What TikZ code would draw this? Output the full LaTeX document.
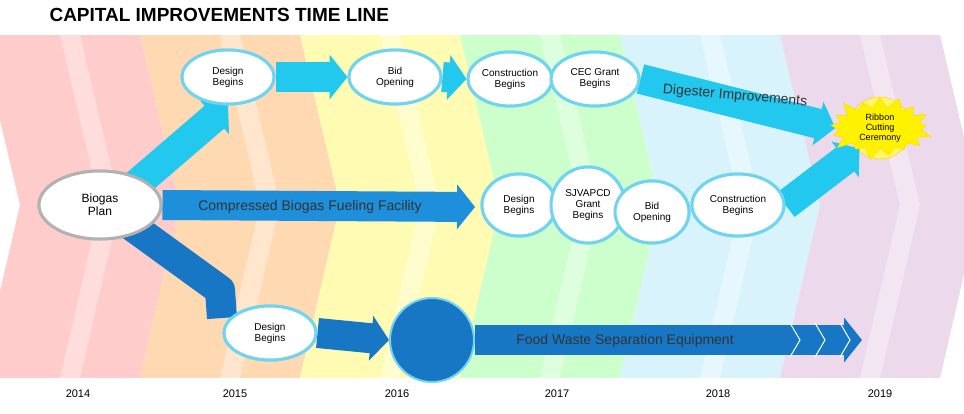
\documentclass[tikz,border=0pt]{standalone}
\usepackage{fontspec}
\setmainfont{Liberation Sans}
\usetikzlibrary{arrows.meta,shapes.geometric,shapes.symbols}
\definecolor{cyanarr}{HTML}{22C8EE}
\definecolor{bluearr}{HTML}{1E8FDA}
\definecolor{darkarr}{HTML}{1777C4}
\definecolor{ringblue}{HTML}{6FD3F2}
\tikzset{milestone/.style = {shape=ellipse,draw=ringblue,line width=3pt,fill=white,
    minimum width=92pt,minimum height=54pt,font=\fontsize{10}{11}\selectfont,align=center,inner sep=0pt}}
\tikzset{band/.style = {line width=30pt,line join=round,-{Triangle[width=44pt,length=18pt]}}}
\tikzset{bandlabel/.style = {font=\fontsize{14}{15}\selectfont,text=black!80}}
\tikzset{year/.style = {font=\fontsize{11}{12}\selectfont}}
\begin{document}
\begin{tikzpicture}[x=1pt,y=-1pt]
  \useasboundingbox (0,0) rectangle (964,413);
  % background chevrons
  \foreach \c [count=\i from 0] in {red!20,orange!30,yellow!30,green!20,cyan!15,violet!15}{
    \fill[\c] (\i*160-20,35) -- (\i*160+140,35) -- (\i*160+180,205) -- (\i*160+140,378)
      -- (\i*160-20,378) -- (\i*160+20,205) -- cycle;
    \fill[white,opacity=0.35] (\i*160+60,35) -- (\i*160+80,35) -- (\i*160+120,205)
      -- (\i*160+80,378) -- (\i*160+60,378) -- (\i*160+100,205) -- cycle;
  }
  \fill[white] (0,0) rectangle (964,35);
  \fill[white] (0,378) rectangle (964,413);
  \node[font=\bfseries\fontsize{19}{20}\selectfont,anchor=west] (title) at (46,15) {CAPITAL IMPROVEMENTS TIME LINE};
  \foreach \x/\y in {78/2014,235/2015,397/2016,557/2017,718/2018,880/2019}
    \node[year] (y\y) at (\x,394) {\y};

  % nodes
  \node[milestone,draw=gray!60,minimum width=122pt,minimum height=68pt,font=\fontsize{12}{13}\selectfont] (bio) at (100,205) {Biogas\\Plan};
  \node[milestone] (tdes) at (228,77) {Design\\Begins};
  \node[milestone] (tbid) at (395,77) {Bid\\Opening};
  \node[milestone,minimum width=84pt] (tcon) at (510,79) {Construction\\Begins};
  \node[milestone,minimum width=88pt] (tcec) at (595,79) {CEC Grant\\Begins};
  \node[circle,fill=yellow!60,draw=yellow!60!orange,minimum size=62pt] (ribbg) at (880,128) {};
  \node[starburst,fill=yellow,draw=yellow!80!orange,minimum width=110pt,minimum height=62pt,
    font=\fontsize{9}{10}\selectfont,align=center,inner sep=0pt] (rib) at (880,128) {Ribbon\\Cutting\\Ceremony};
  \node[milestone,minimum width=74pt,minimum height=62pt] (mdes) at (519,205) {Design\\Begins};
  \node[milestone,minimum width=74pt,minimum height=76pt] (mgra) at (588,205) {SJVAPCD\\Grant\\Begins};
  \node[milestone,minimum width=74pt,minimum height=62pt] (mbid) at (652,212) {Bid\\Opening};
  \node[milestone,minimum width=92pt,minimum height=62pt] (mcon) at (738,205) {Construction\\Begins};
  \node[milestone] (bdes) at (270,333) {Design\\Begins};
  \node[circle,fill=darkarr,draw=ringblue,line width=2pt,minimum size=84pt] (food) at (432,340) {};
  \coordinate (mend) at (475,207);
  \coordinate (fend) at (862,340);
  \coordinate (bturn) at (220,290);
  \coordinate (bdrop) at (222,318);

  % bands
  \draw[band,cyanarr] (bio.north east) ++(-12,8) -- (tdes.south);
  \draw[band,cyanarr] (tdes.east) -- (tbid.west);
  \draw[band,cyanarr] (tbid.east) -- (tcon.west);
  \draw[band,cyanarr] (tcec.east) -- (rib.west);
  \draw[band,cyanarr] (mcon.east) -- (rib.south west);
  \draw[band,bluearr] (bio.east) -- (mend);
  \draw[line width=30pt,line join=round,darkarr] (bio.south east) ++(-15,-6) -- (bturn) -- (bdrop);
  \draw[band,darkarr] (bdes.east) -- (food.west);
  \draw[band,darkarr] (food.east) -- (fend);
  \foreach \x in {790,815,840}
    \draw[white,line width=1pt] (\x,323) -- (\x+10,340) -- (\x,357);

  % redraw nodes on top
  \node[milestone,draw=gray!60,minimum width=122pt,minimum height=68pt,font=\fontsize{12}{13}\selectfont] at (bio) {Biogas\\Plan};
  \node[milestone] at (tdes) {Design\\Begins};
  \node[milestone] at (tbid) {Bid\\Opening};
  \node[milestone,minimum width=84pt] at (tcon) {Construction\\Begins};
  \node[milestone,minimum width=88pt] at (tcec) {CEC Grant\\Begins};
  \node[starburst,fill=yellow,draw=yellow!80!orange,minimum width=110pt,minimum height=62pt,
    font=\fontsize{9}{10}\selectfont,align=center,inner sep=0pt] at (rib) {Ribbon\\Cutting\\Ceremony};
  \node[milestone,minimum width=74pt,minimum height=62pt] at (mdes) {Design\\Begins};
  \node[milestone,minimum width=74pt,minimum height=76pt] at (mgra) {SJVAPCD\\Grant\\Begins};
  \node[milestone,minimum width=74pt,minimum height=62pt] at (mbid) {Bid\\Opening};
  \node[milestone,minimum width=92pt,minimum height=62pt] at (mcon) {Construction\\Begins};
  \node[milestone] at (bdes) {Design\\Begins};

  % band labels
  \node[bandlabel,rotate=-5] (ldig) at (735,96) {Digester Improvements};
  \node[bandlabel] (lcbf) at (310,207) {Compressed Biogas Fueling Facility};
  \node[bandlabel] (lfood) at (625,341) {Food Waste Separation Equipment};
\end{tikzpicture}
\end{document}
